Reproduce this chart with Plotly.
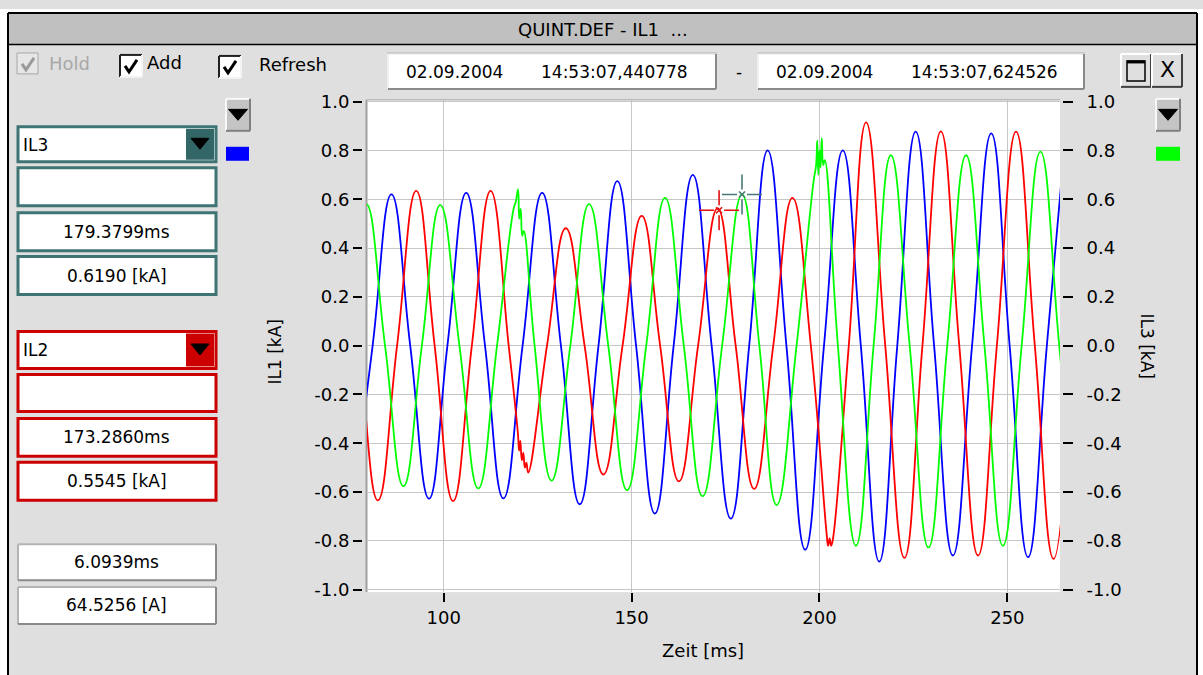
import plotly.graph_objects as go

W, H = 1203, 675
FONT = "DejaVu Sans"

# ---------------- data ----------------
# IL1 (blue): peaks / zero crossings / troughs, time in ms, current in kA
il1_t = [76.1, 81.1, 86.1, 91.1, 96.1, 101.0, 106.0, 111.0, 115.9, 121.0,
         126.2, 131.2, 136.2, 141.2, 146.2, 151.2, 156.2, 161.2, 166.3, 171.3,
         176.4, 181.3, 186.2, 191.2, 196.2, 201.2, 206.2, 211.0, 215.9, 220.7,
         225.6, 230.5, 235.5, 240.6, 245.7, 250.6, 255.5, 260.5, 265.5]
il1_v = [-0.62, 0.0, 0.62, 0.0, -0.627, 0.0, 0.626, 0.0, -0.626, 0.0,
         0.626, 0.0, -0.65, 0.0, 0.674, 0.0, -0.688, 0.0, 0.70, 0.0,
         -0.709, 0.0, 0.80, 0.0, -0.836, 0.0, 0.80, 0.0, -0.885, 0.0,
         0.877, 0.0, -0.86, 0.0, 0.87, 0.0, -0.867, 0.0, 0.87]

# IL2 (red)
il2_t = [72.5, 77.5, 82.5, 87.6, 92.7, 97.6, 102.5, 107.5, 112.5, 117.3,
         119.7, 120.1, 120.4, 120.8, 121.2, 121.6, 122.0, 122.5,
         127.5, 132.5, 137.5, 142.5, 147.6, 152.7, 157.6, 162.6, 167.7, 172.9,
         177.7, 182.6, 187.7, 192.8, 197.7,
         201.9, 202.3, 202.7, 203.1, 203.5,
         207.8, 212.4, 217.5, 222.6, 227.4, 232.3, 237.2, 242.2, 247.2, 252.3,
         257.3, 262.3, 267.3]
il2_v = [0.63, 0.0, -0.634, 0.0, 0.634, 0.0, -0.637, 0.0, 0.634, 0.0,
         -0.35, -0.43, -0.39, -0.47, -0.44, -0.50, -0.48, -0.52,
         0.0, 0.481, 0.0, -0.528, 0.0, 0.532, 0.0, -0.556, 0.0, 0.562,
         0.0, -0.587, 0.0, 0.605, 0.0,
         -0.77, -0.82, -0.79, -0.82, -0.80,
         0.0, 0.915, 0.0, -0.87, 0.0, 0.878, 0.0, -0.86, 0.0, 0.877,
         0.0, -0.874, 0.0]

# IL3 (green)
il3_t = [69.4, 74.4, 79.4, 84.4, 89.3, 94.2, 99.1, 104.2, 109.2, 114.2,
         118.6, 119.2, 119.8, 120.1, 120.5, 120.9, 121.3,
         124.2, 128.7, 133.7, 138.7, 143.8, 148.8, 153.9, 158.9, 163.9, 168.9,
         174.1, 179.4, 184.0, 188.6, 193.9,
         198.4, 199.1, 199.4, 199.7, 200.0, 200.3, 200.6, 201.0, 201.4,
         204.9, 209.7, 214.4, 219.0, 224.0, 229.0, 234.0, 239.0, 243.9, 248.8,
         253.8, 258.8, 263.8, 268.8]
il3_v = [-0.58, 0.0, 0.58, 0.0, -0.576, 0.0, 0.576, 0.0, -0.585, 0.0,
         0.56, 0.59, 0.64, 0.52, 0.56, 0.45, 0.47,
         0.0, -0.553, 0.0, 0.58, 0.0, -0.592, 0.0, 0.605, 0.0, -0.617,
         0.0, 0.62, 0.0, -0.653, 0.0,
         0.67, 0.74, 0.84, 0.70, 0.80, 0.73, 0.85, 0.74, 0.76,
         0.0, -0.82, 0.0, 0.78, 0.0, -0.827, 0.0, 0.78, 0.0, -0.82,
         0.0, 0.795, 0.0, -0.82]

x_range = [79.6, 264.0]
x_ticks = [100, 150, 200, 250]
y_ticks = [-1.0, -0.8, -0.6, -0.4, -0.2, 0.0, 0.2, 0.4, 0.6, 0.8, 1.0]
y_ticktext = ["-1.0", "-0.8", "-0.6", "-0.4", "-0.2", "0.0", "0.2", "0.4", "0.6", "0.8", "1.0"]

cursor_il2 = (173.2860, 0.5545)
cursor_il3 = (179.3799, 0.6190)

title_text = "QUINT.DEF - IL1  ..."
date_from = ("02.09.2004", "14:53:07,440778")
date_to = ("02.09.2004", "14:53:07,624526")
il3_panel = ["IL3", "179.3799ms", "0.6190 [kA]"]
il2_panel = ["IL2", "173.2860ms", "0.5545 [kA]"]
diff_panel = ["6.0939ms", "64.5256 [A]"]

# ---------------- styling helpers (pixel -> paper) ----------------
BG = "#DFDFDF"
TEAL = "#3E7474"
TEAL_BTN = "#336666"
RED = "#CC0000"

# the page shows the figure 8 px down and 659 px tall, so pixel targets are mapped onto that band
OFF = 8
HE = 659


def px(x):
    return x / W


def py(y):
    return 1 - (y - OFF) / HE


shapes = []
annotations = []


def rect(x0, y0, x1, y1, fill=None, line=None, lw=1, layer="below"):
    shapes.append(dict(type="rect", xref="paper", yref="paper",
                       x0=px(x0), x1=px(x1), y0=py(y1), y1=py(y0),
                       fillcolor=fill or "rgba(0,0,0,0)",
                       line=dict(color=line or "rgba(0,0,0,0)", width=lw if line else 0),
                       layer=layer))


def seg(x0, y0, x1, y1, color, lw=1, layer="below"):
    shapes.append(dict(type="line", xref="paper", yref="paper",
                       x0=px(x0), x1=px(x1), y0=py(y0), y1=py(y1),
                       line=dict(color=color, width=lw), layer=layer))


def path(points, color, lw=1, fill=None, closed=False, layer="below"):
    d = "M " + " L ".join(f"{px(a):.5f},{py(b):.5f}" for a, b in points)
    if closed:
        d += " Z"
    shapes.append(dict(type="path", xref="paper", yref="paper", path=d,
                       line=dict(color=color, width=lw),
                       fillcolor=fill or "rgba(0,0,0,0)", layer=layer))


def txt(x, y, s, size=18, color="black", xanchor="center", angle=0):
    annotations.append(dict(xref="paper", yref="paper", x=px(x), y=py(y), text=s,
                            showarrow=False, xanchor=xanchor, yanchor="middle",
                            textangle=angle,
                            font=dict(family=FONT, size=size, color=color)))


def box3d(x0, y0, x1, y1, tl, br, fill="white", lw=2):
    rect(x0, y0, x1, y1, fill=fill)
    seg(x0, y0, x1, y0, tl, lw)
    seg(x0, y0, x0, y1, tl, lw)
    seg(x0, y1, x1, y1, br, lw)
    seg(x1, y0, x1, y1, br, lw)


def checkbox(x0, y0, size, color="black", disabled=False):
    if disabled:
        rect(x0, y0, x0 + size, y0 + size, fill="#E6E6E6", line="#A8A8A8", lw=1)
    else:
        box3d(x0, y0, x0 + size, y0 + size, "#202020", "#F4F4F4", lw=2)
    path([(x0 + 5, y0 + 11), (x0 + 9, y0 + 17), (x0 + 17, y0 + 5)], color, lw=3)


def triangle(cx, cy, w, h, color="black"):
    path([(cx - w / 2, cy - h / 2), (cx + w / 2, cy - h / 2), (cx, cy + h / 2)],
         color, lw=1, fill=color, closed=True)


# ---------------- window chrome ----------------
rect(0, OFF, W, 12, fill="white")
rect(0, OFF, 8, H, fill="white")
rect(1198, OFF, W, H, fill="white")
rect(9, 13, 1196, 43, fill="#C0C0C0")
seg(8, 12, 1197, 12, "black", 2)
seg(8, 12, 8, H, "black", 2)
seg(1197, 12, 1197, H, "black", 2)
seg(8, 43.5, 1197, 43.5, "black", 1.5)
txt(603, 29, title_text, size=18)

# checkboxes row
checkbox(17, 52, 21, color="#9A9A9A", disabled=True)
txt(47, 63, "Hold", size=18, color="#A8A8A8", xanchor="left")
checkbox(120, 54, 22)
txt(145, 62, "Add", size=18, xanchor="left")
checkbox(219, 55, 22)
txt(257, 64, "Refresh", size=18, xanchor="left")

# date boxes
for (bx0, bx1, d) in [(388, 716, date_from), (758, 1084, date_to)]:
    box3d(bx0, 53, bx1, 88, "#F0F0F0", "#8A8A8A", lw=2)
    seg(bx0 - 1, 52, bx1 + 1, 52, "#B8B8B8", 1)
    txt(bx0 + 16, 71, d[0], size=17, xanchor="left")
    txt(bx0 + 151, 71, d[1], size=17, xanchor="left")
txt(739, 71, "-", size=17)

# window buttons
box3d(1121, 53, 1151, 86, "#FFFFFF", "#404040", fill=BG, lw=2)
box3d(1152, 53, 1182, 86, "#FFFFFF", "#404040", fill=BG, lw=2)
rect(1127, 60, 1145, 80, line="black", lw=1.5)
seg(1127, 61, 1145, 61, "black", 3)
txt(1167, 69, "X", size=22)

# left panel: IL3
for (y0, y1) in [(126, 161), (167, 205), (212, 250), (256, 294)]:
    rect(18, y0, 216, y1, fill="white", line=TEAL, lw=3)
rect(186, 128, 214, 159, fill=TEAL_BTN)
triangle(200, 143, 18, 11)
txt(21, 144, il3_panel[0], size=17, xanchor="left")
txt(117, 231, il3_panel[1], size=17)
txt(117, 275, il3_panel[2], size=17)

# left panel: IL2
for (y0, y1) in [(331, 368), (374, 411), (418, 456), (462, 500)]:
    rect(18, y0, 216, y1, fill="white", line=RED, lw=3)
rect(186, 333, 214, 366, fill=RED)
triangle(200, 349, 18, 11)
txt(21, 350, il2_panel[0], size=17, xanchor="left")
txt(117, 437, il2_panel[1], size=17)
txt(117, 481, il2_panel[2], size=17)

# difference boxes
box3d(18, 544, 216, 580, "#B4B4B4", "#8A8A8A", lw=2)
box3d(18, 587, 216, 624, "#B4B4B4", "#8A8A8A", lw=2)
txt(117, 562, diff_panel[0], size=17)
txt(117, 605, diff_panel[1], size=17)

# small dropdown buttons + colour squares
for bx in [226, 1156]:
    box3d(bx, 98, bx + 24, 130, "#F8F8F8", "#808080", fill="#C4C4C4", lw=2)
    triangle(bx + 12, 114, 19, 11)
rect(226, 146, 249, 160, fill="#0000FF")
rect(1156, 146, 1180, 160, fill="#00FF00")

# plot frame lines
seg(366.5, 99, 366.5, 592, "#A0A0A0", 2)
seg(367, 99, 1060, 99, "#B8B8B8", 1.5)

# axis titles
txt(275, 352, "IL1 [kA]", size=17, angle=-90)
txt(1147, 345, "IL3 [kA]", size=17, angle=90)
txt(703, 650, "Zeit [ms]", size=18)


# cursors (anchored at data values, arms in pixels)
def cursor(t, v, color, arm=20, gap=5):
    for (a, b, c, d) in [(-arm, 0, -gap, 0), (gap, 0, arm, 0), (0, -arm, 0, -gap), (0, gap, 0, arm),
                         (-3, -3, 3, 3), (-3, 3, 3, -3)]:
        shapes.append(dict(type="line", xref="x", yref="y", xsizemode="pixel", ysizemode="pixel",
                           xanchor=t, yanchor=v, x0=a, x1=c, y0=b, y1=d,
                           line=dict(color=color, width=1.6), layer="above"))


cursor(cursor_il2[0], cursor_il2[1], "#E01010")
cursor(cursor_il3[0], cursor_il3[1], "#4A7878")

# ---------------- figure ----------------
fig = go.Figure()
line_common = dict(shape="spline", smoothing=1.3, width=1.8)
fig.add_trace(go.Scatter(x=il1_t, y=il1_v, mode="lines", name="IL1",
                         line=dict(color="#0000FF", **line_common)))
fig.add_trace(go.Scatter(x=il3_t, y=il3_v, mode="lines", name="IL3", yaxis="y2",
                         line=dict(color="#00FF00", **line_common)))
fig.add_trace(go.Scatter(x=il2_t, y=il2_v, mode="lines", name="IL2",
                         line=dict(color="#FF0000", **line_common)))

tickfont = dict(family=FONT, size=18, color="black")
y_common = dict(range=[-1.01, 1.007], tickvals=y_ticks, ticktext=y_ticktext,
                ticks="outside", tickcolor="black", tickwidth=1.5, tickfont=tickfont,
                zeroline=False, showline=False, fixedrange=True)

fig.update_layout(
    width=W, height=H, autosize=False,
    margin=dict(l=0, r=0, t=0, b=0),
    paper_bgcolor=BG, plot_bgcolor="white",
    showlegend=False,
    xaxis=dict(domain=[367 / W, 1060 / W], range=x_range, tickvals=x_ticks,
               ticks="outside", ticklen=9, tickcolor="black", tickwidth=1.5,
               tickfont=tickfont, showgrid=True, gridcolor="#C6C6C6", gridwidth=1,
               zeroline=False, showline=False, anchor="y", fixedrange=True),
    yaxis=dict(domain=[py(592), py(99)], anchor="free", position=362 / W,
               ticklen=9, showgrid=True, gridcolor="#C6C6C6", gridwidth=1, **y_common),
    yaxis2=dict(overlaying="y", side="right", anchor="free", position=1062 / W,
                ticklen=10, showgrid=False, ticklabelstandoff=10, **y_common),
    shapes=shapes,
    annotations=annotations,
)

fig.write_html("out.html", config={"displayModeBar": False})
